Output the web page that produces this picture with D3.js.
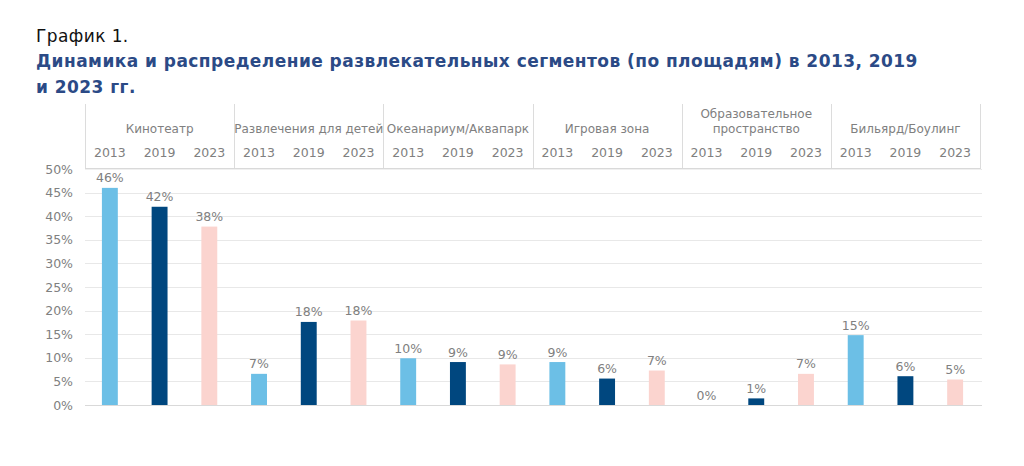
<!DOCTYPE html>
<html><head><meta charset="utf-8">
<script src="https://cdn.jsdelivr.net/npm/d3@7"></script>
<style>
body{margin:0;background:#fff;}
svg{display:block;font-family:"DejaVu Sans",Verdana,sans-serif;}
</style></head>
<body><svg id="c" width="1024" height="466"></svg>
<script>
const groups = ["Кинотеатр","Развлечения для детей","Океанариум/Аквапарк","Игровая зона","Образовательное\nпространство","Бильярд/Боулинг"];
const years = ["2013","2019","2023"];
const values2013 = [46.0, 6.6, 9.9, 9.1, 0.0, 14.8];
const values2019 = [42.0, 17.6, 9.1, 5.6, 1.4, 6.1];
const values2023 = [37.8, 17.9, 8.6, 7.3, 6.6, 5.4];
const yTicks = [0,5,10,15,20,25,30,35,40,45,50];
const colors = {"2013":"#6cbfe6","2019":"#00477f","2023":"#fbd4cf"};

const seriesByYear = {"2013":values2013,"2019":values2019,"2023":values2023};
const data = [];
groups.forEach((g,gi)=>years.forEach(yr=>data.push({key:gi+"_"+yr, group:g, gi, year:yr, value:seriesByYear[yr][gi]})));

const svg = d3.select("#c");
const pLeft=85, pRight=980, pTop=169, pBottom=405;

svg.append("text").attr("x",36).attr("y",42).attr("font-size",17).attr("letter-spacing",0.4).attr("fill","#111").text("График 1.");
svg.append("text").attr("x",36).attr("y",67).attr("font-size",17).attr("letter-spacing",0.45).attr("font-weight","bold").attr("fill","#2b4a86")
  .text("Динамика и распределение развлекательных сегментов (по площадям) в 2013, 2019");
svg.append("text").attr("x",36).attr("y",92.5).attr("font-size",17).attr("letter-spacing",0.45).attr("font-weight","bold").attr("fill","#2b4a86").text("и 2023 гг.");

const x = d3.scaleBand().domain(data.map(d=>d.key)).range([pLeft,pRight]).paddingInner(0.68).paddingOuter(0.34);
const xg = d3.scaleBand().domain(groups.map((g,i)=>i)).range([pLeft,pRight]);
const y = d3.scaleLinear().domain([0,50]).range([pBottom,pTop]);

// grid
svg.append("g").selectAll("line").data(yTicks).join("line")
  .attr("x1",pLeft).attr("x2",pRight+2).attr("y1",d=>Math.round(y(d))+0.5).attr("y2",d=>Math.round(y(d))+0.5)
  .attr("stroke",d=>d===0?"#d9d9d9":"#e8e8e8").attr("stroke-width",1);

// y axis
const ya = svg.append("g").attr("transform",`translate(${pLeft},0)`)
  .call(d3.axisLeft(y).tickValues(yTicks).tickFormat(d=>d+"%").tickSize(0).tickPadding(12));
ya.select(".domain").remove();
ya.selectAll("text").attr("font-size",12.5).attr("fill","#808080").attr("font-family","DejaVu Sans, Verdana, sans-serif");

// bars
svg.append("g").selectAll("rect").data(data).join("rect")
  .attr("x",d=>x(d.key)).attr("width",x.bandwidth())
  .attr("y",d=>y(d.value)).attr("height",d=>y(0)-y(d.value))
  .attr("fill",d=>colors[d.year]);

// labels
svg.append("g").selectAll("text").data(data).join("text")
  .attr("x",d=>x(d.key)+x.bandwidth()/2).attr("y",d=>y(d.value)-5.5)
  .attr("text-anchor","middle").attr("font-size",12.5).attr("fill","#808080")
  .text(d=>Math.round(d.value)+"%");

// header table
const hTop=104, hBot=168;
const hdr = svg.append("g");
hdr.selectAll("line.sep").data(d3.range(groups.length+1)).join("line").attr("class","sep")
  .attr("x1",i=>Math.round(i<groups.length?xg(i):pRight)+0.5).attr("x2",i=>Math.round(i<groups.length?xg(i):pRight)+0.5)
  .attr("y1",hTop).attr("y2",hBot).attr("stroke","#dcdcdc");
hdr.append("line").attr("x1",pLeft).attr("x2",pRight+1).attr("y1",hBot+0.5).attr("y2",hBot+0.5).attr("stroke","#d9d9d9");
hdr.append("line").attr("x1",pLeft).attr("x2",pRight+1).attr("y1",hBot+1.5).attr("y2",hBot+1.5).attr("stroke","#f0f0f0");

hdr.selectAll("text.g").data(groups).join("text").attr("class","g")
  .attr("x",(g,i)=>xg(i)+xg.bandwidth()/2).attr("text-anchor","middle")
  .attr("font-size",12).attr("fill","#808080")
  .each(function(g){
    const lines=g.split("\n"); const sel=d3.select(this);
    const y0 = lines.length===1?133:118;
    lines.forEach((l,k)=>sel.append("tspan").attr("x",sel.attr("x")).attr("y",y0+k*14.5).text(l));
  });
hdr.selectAll("text.yr").data(data).join("text").attr("class","yr")
  .attr("x",d=>x(d.key)+x.bandwidth()/2).attr("y",157).attr("text-anchor","middle")
  .attr("font-size",12.5).attr("fill","#808080").text(d=>d.year);
</script></body></html>
